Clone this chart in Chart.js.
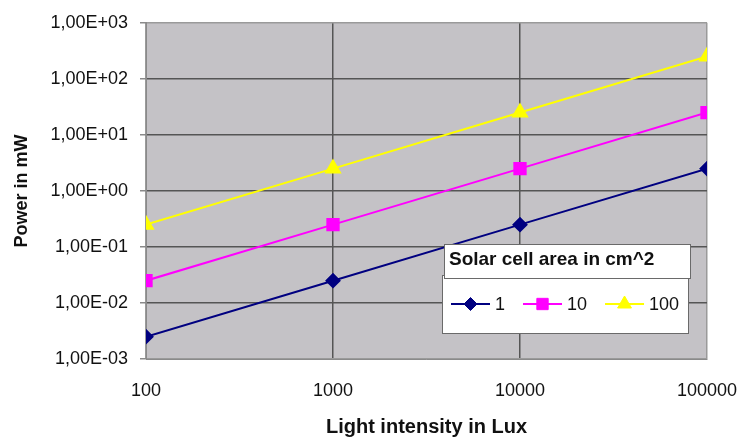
<!DOCTYPE html>
<html>
<head>
<meta charset="utf-8">
<script src="https://cdn.jsdelivr.net/npm/chart.js@4.4.1/dist/chart.umd.min.js"></script>
<style>
  html, body { margin: 0; padding: 0; background: #fff; }
  #wrap { width: 741px; height: 439px; }
</style>
</head>
<body>
<div id="wrap"><canvas id="solarChart" width="741" height="439"></canvas></div>
<script>
// Light intensity (Lux) of each measurement
const luxValues = [100, 1000, 10000, 100000];

// Power in mW, one array per solar cell area (cm^2)
const power1 = [0.0025, 0.025, 0.25, 2.5];
const power10 = [0.025, 0.25, 2.5, 25];
const power100 = [0.25, 2.5, 25, 250];

const seriesLabels = ['1', '10', '100'];

// Only the decades are shown on both axes
const xTicks = [100, 1000, 10000, 100000];
const yTicks = [0.001, 0.01, 0.1, 1, 10, 100, 1000];
const yTickLabels = ['1,00E-03', '1,00E-02', '1,00E-01', '1,00E+00', '1,00E+01', '1,00E+02', '1,00E+03'];

Chart.defaults.font.family = '"Liberation Sans", Arial, sans-serif';
Chart.defaults.color = '#111';

function toPoints(values) {
  return luxValues.map((lux, i) => ({ x: lux, y: values[i] }));
}

// Gray plot background
const plotBackground = {
  id: 'plotBackground',
  beforeDraw(chart) {
    const { ctx, chartArea: ca } = chart;
    ctx.save();
    ctx.fillStyle = '#c4c2c6';
    ctx.fillRect(ca.left, ca.top, ca.right - ca.left, ca.bottom - ca.top);
    ctx.restore();
  }
};

// Legend box sitting inside the plot, bottom right
const insideLegend = {
  id: 'insideLegend',
  afterDatasetsDraw(chart) {
    const { ctx, chartArea: ca } = chart;
    ctx.save();
    ctx.lineWidth = 1;
    ctx.strokeStyle = '#6a6a6a';

    // box with the entries
    const bx = ca.right - 265, by = ca.bottom - 84;
    ctx.fillStyle = '#fff';
    ctx.fillRect(bx, by, 246, 58);
    ctx.strokeRect(bx + 0.5, by + 0.5, 246, 58);

    let x = bx + 9;
    const y = ca.bottom - 55;
    ctx.font = '18px "Liberation Sans", Arial, sans-serif';
    ctx.textBaseline = 'middle';
    chart.data.datasets.forEach(ds => {
      ctx.strokeStyle = ds.borderColor;
      ctx.lineWidth = 2;
      ctx.beginPath();
      ctx.moveTo(x, y);
      ctx.lineTo(x + 39, y);
      ctx.stroke();
      ctx.fillStyle = ds.backgroundColor;
      ctx.lineWidth = 1;
      Chart.helpers.drawPoint(ctx, {
        pointStyle: ds.pointStyle,
        radius: ds.pointRadius,
        rotation: 0,
        borderWidth: 1
      }, x + 19.5, y);
      ctx.fillStyle = '#111';
      ctx.fillText(ds.label, x + 44, y + 1);
      x += 44 + ctx.measureText(ds.label).width + 18;
    });

    // title box, drawn over the entry box
    const tx = ca.right - 263, ty = ca.bottom - 115;
    ctx.fillStyle = '#fff';
    ctx.strokeStyle = '#6a6a6a';
    ctx.fillRect(tx, ty, 246, 34);
    ctx.strokeRect(tx + 0.5, ty + 0.5, 246, 34);
    ctx.fillStyle = '#111';
    ctx.font = 'bold 19px "Liberation Sans", Arial, sans-serif';
    ctx.fillText('Solar cell area in cm^2', tx + 5, ty + 16);
    ctx.restore();
  }
};

const ctx = document.getElementById('solarChart').getContext('2d');
const solarChart = new Chart(ctx, {
  type: 'line',
  data: {
    datasets: [
      {
        label: seriesLabels[0],
        data: toPoints(power1),
        borderColor: '#000080',
        backgroundColor: '#000080',
        pointStyle: 'rectRot',
        pointRadius: 6.5,
        borderWidth: 2
      },
      {
        label: seriesLabels[1],
        data: toPoints(power10),
        borderColor: '#ff00ff',
        backgroundColor: '#ff00ff',
        pointStyle: 'rect',
        pointRadius: 8,
        borderWidth: 2
      },
      {
        label: seriesLabels[2],
        data: toPoints(power100),
        borderColor: '#ffff00',
        backgroundColor: '#ffff00',
        pointStyle: 'triangle',
        pointRadius: 8,
        borderWidth: 2
      }
    ]
  },
  options: {
    responsive: false,
    animation: false,
    layout: {
      padding: { left: 11, top: 19, right: 34, bottom: 0 }
    },
    plugins: {
      legend: { display: false },
      tooltip: { enabled: false }
    },
    elements: {
      line: { tension: 0 },
      point: { borderWidth: 1 }
    },
    scales: {
      x: {
        type: 'logarithmic',
        min: 100,
        max: 100000,
        afterBuildTicks: scale => { scale.ticks = xTicks.map(v => ({ value: v })); },
        afterFit: scale => {
          scale.height = 80;
          // the last label may hang past the plot; the layout padding leaves room
          scale.paddingLeft = 0;
          scale.paddingRight = 0;
        },
        border: { color: '#8a8a8a', width: 1 },
        grid: {
          drawTicks: false,
          lineWidth: 1.5,
          color: c => (c.index === 0 || c.index === xTicks.length - 1) ? '#9a9a9a' : '#555'
        },
        ticks: {
          padding: 21,
          maxRotation: 0,
          font: { size: 18 },
          callback: value => String(value)
        },
        title: {
          display: true,
          text: 'Light intensity in Lux',
          font: { size: 20, weight: 'bold' },
          padding: { top: 0, bottom: 0 }
        }
      },
      y: {
        type: 'logarithmic',
        min: 0.001,
        max: 1000,
        afterBuildTicks: scale => { scale.ticks = yTicks.map(v => ({ value: v })); },
        afterFit: scale => { scale.width = 135; },
        border: { color: '#8a8a8a', width: 1 },
        grid: {
          tickLength: 6,
          lineWidth: 1.5,
          tickColor: '#8a8a8a',
          color: c => (c.index === 0 || c.index === yTicks.length - 1) ? '#9a9a9a' : '#555'
        },
        ticks: {
          padding: 12,
          font: { size: 18 },
          callback: value => yTickLabels[yTicks.indexOf(value)]
        },
        title: {
          display: true,
          text: 'Power in mW',
          font: { size: 18, weight: 'bold' },
          padding: { top: 0, bottom: 0 }
        }
      }
    }
  },
  plugins: [plotBackground, insideLegend]
});
</script>
</body>
</html>
